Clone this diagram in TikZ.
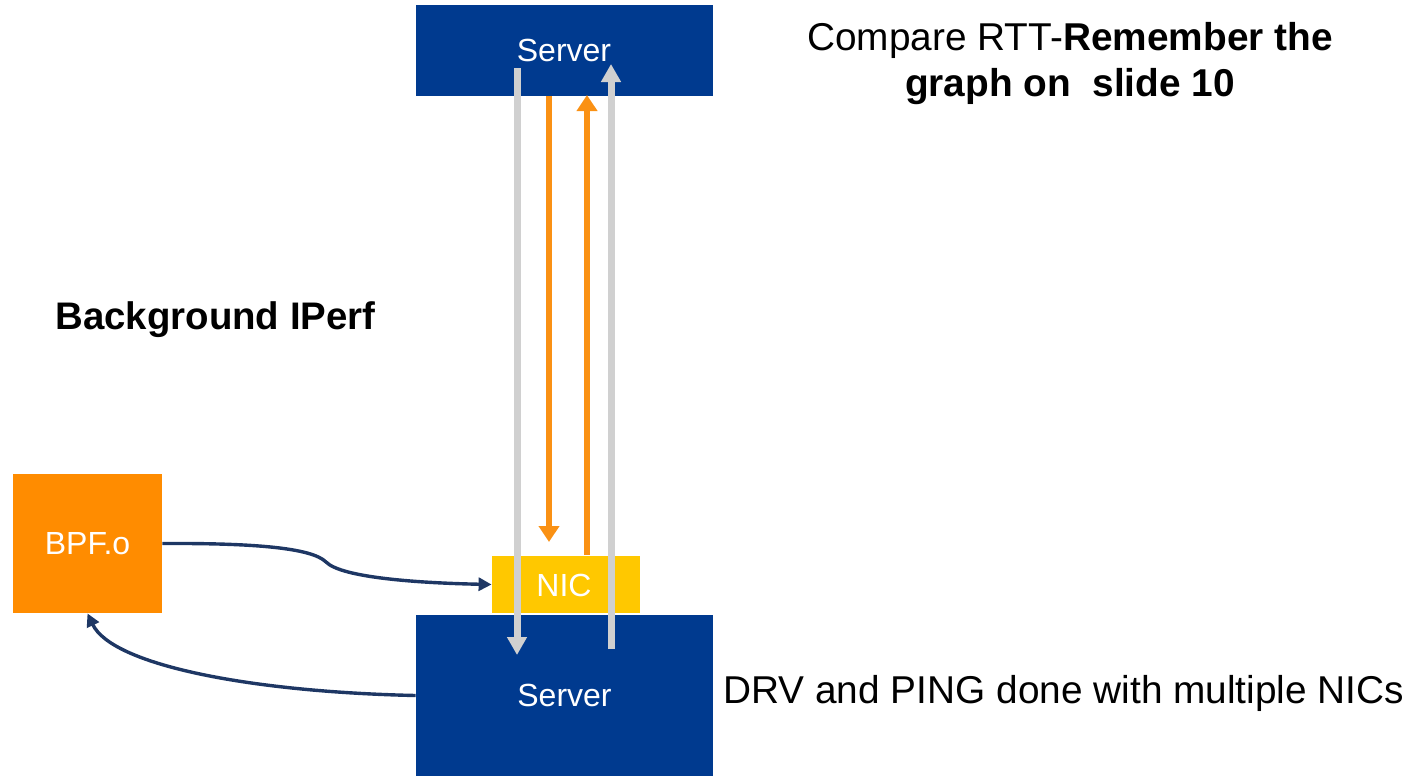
\documentclass[tikz,border=0pt]{standalone}
\usepackage{fontspec}
\setmainfont{Liberation Sans}
\usetikzlibrary{arrows.meta}
\definecolor{srvblue}{RGB}{0,58,143}
\definecolor{nicyellow}{RGB}{255,200,0}
\definecolor{bpforange}{RGB}{255,140,0}
\definecolor{arrorange}{RGB}{250,145,20}
\definecolor{arrgray}{RGB}{208,208,208}
\definecolor{connblue}{RGB}{30,55,100}
\tikzset{
  box/.style={draw=none, inner sep=0pt, text=white, font=\fontsize{16}{19}\selectfont},
  grayarr/.style={draw=arrgray, line width=3.5pt, -{Triangle[length=9pt,width=9.5pt]}},
  orangearr/.style={draw=arrorange, line width=3pt, -{Triangle[length=8pt,width=10pt]}},
  conn/.style={draw=connblue, line width=1.7pt, -{Triangle[length=6.5pt,width=6.5pt]}},
  lbl/.style={font=\fontsize{19.4}{23}\selectfont, inner sep=0pt}
}
\begin{document}
\begin{tikzpicture}[x=0.5pt,y=-0.5pt]
\useasboundingbox (0,0) rectangle (1424,776);
\node[box, fill=srvblue, minimum width=148.5pt, minimum height=45.5pt] (top) at (564.5,50.5) {};
\node[box] (toplbl) at (564,50) {Server};
\node[box, fill=srvblue, minimum width=148.5pt, minimum height=80.5pt] (bot) at (564.5,695.5) {Server};
\node[box, fill=nicyellow, minimum width=74pt, minimum height=28.5pt] (nic) at (566,584.5) {};
\node[box] (niclbl) at (564,585) {NIC};
\node[box, fill=bpforange, minimum width=74.5pt, minimum height=69.5pt] (bpf) at (87.5,543.5) {BPF.o};

\coordinate (g1s) at (517,68);
\coordinate (g1e) at (517,655);
\coordinate (g2s) at (611,649);
\coordinate (g2e) at (611,64);
\coordinate (o1s) at (549,96);
\coordinate (o1e) at (549,542);
\coordinate (o2s) at (587,555);
\coordinate (o2e) at (587,95);

\draw[orangearr] (o1s) -- (o1e);
\draw[orangearr] (o2s) -- (o2e);
\draw[grayarr] (g1s) -- (g1e);
\draw[grayarr] (g2s) -- (g2e);

\draw[conn] (bpf.east) .. controls (255,543) and (312,548) .. (326,562)
  .. controls (342,578) and (420,583) .. (nic.west);
\draw[conn] (bot.west) .. controls (250,692) and (112,665) .. (bpf.south);

\node[lbl, font=\fontsize{19.2}{23}\selectfont\bfseries, anchor=west] (bg) at (55,320) {Background IPerf};
\node[lbl, align=center] (cmp) at (1070,64) {Compare RTT-\textbf{Remember the}\\[0pt]\textbf{graph on\ \ slide 10}};
\node[lbl, font=\fontsize{19.4}{23}\selectfont, anchor=west] (drv) at (723,693) {DRV and PING done with multiple NICs};
\end{tikzpicture}
\end{document}
